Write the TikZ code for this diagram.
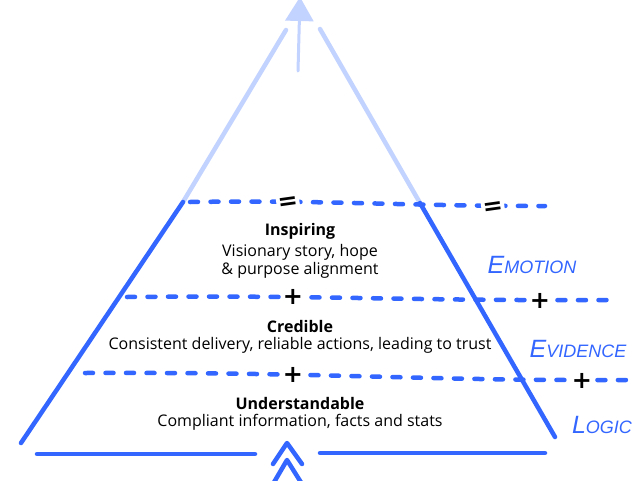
\documentclass[tikz,border=0pt]{standalone}
\usepackage{fontspec}
\setmainfont{Open Sans}
\newfontfamily\handfont{Liberation Sans}
\newfontfamily\signfont{DejaVu Sans}
\usetikzlibrary{arrows.meta,positioning}
\definecolor{pyrblue}{HTML}{3366FF}
\definecolor{pyrlight}{HTML}{C3D3FF}
\tikzset{
  side/.style={line width=4.5pt, line cap=round, draw=pyrblue},
  fadeside/.style={side, draw=pyrlight},
  layerline/.style={line width=4.5pt, line cap=round, draw=pyrblue, dash pattern=on 8pt off 12.5pt},
  sign/.style={fill=white, inner sep=1.5pt, font=\signfont\fontsize{24}{24}\selectfont\bfseries},
  title/.style={font=\fontsize{16}{18}\selectfont\bfseries, inner sep=0pt},
  body/.style={font=\fontsize{16}{18}\selectfont, align=center, inner sep=0pt},
  hand/.style={text=pyrblue, font=\handfont\itshape\fontsize{25}{25}\selectfont}
}
\newcommand{\hsc}[1]{{\fontsize{18}{18}\selectfont #1}}
\begin{document}
\begin{tikzpicture}[x=1pt,y=-1pt]
  \useasboundingbox (0,0) rectangle (640,480);
  \coordinate (topL) at (286,30);
  \coordinate (midL) at (183,202);
  \coordinate (botL) at (21,443);
  \coordinate (topR) at (320,29);
  \coordinate (midR) at (420,203);
  \coordinate (botR) at (555,437);
  \coordinate (shaft) at (298,71);
  \coordinate (tip) at (300,-3);
  \draw[fadeside] (topL) -- (midL);
  \draw[side] (midL) -- (botL);
  \draw[fadeside] (topR) -- (midR);
  \draw[side] (midR) -- (botR);
  \draw[fadeside, line width=3pt, -{Triangle[length=24pt,width=28pt]}] (shaft) -- (tip);
  \coordinate (baseA) at (37,454);
  \coordinate (baseB) at (255,454);
  \coordinate (baseC) at (320,453);
  \coordinate (baseD) at (545,453);
  \draw[side] (baseA) -- (baseB);
  \draw[side] (baseC) -- (baseD);
  \draw[side, line join=round] (273,464) -- (287,443) -- (302,464);
  \draw[side, line join=round] (273,484) -- (287,460) -- (302,484);
  \coordinate (l1a) at (190,202);
  \coordinate (l1b) at (545,206);
  \coordinate (l2a) at (127,297);
  \coordinate (l2b) at (612,300);
  \coordinate (l3a) at (85,373);
  \coordinate (l3b) at (630,380);
  \draw[layerline] (l1a) .. controls (330,200) and (400,206) .. (l1b);
  \draw[layerline] (l2a) .. controls (330,295) and (400,301) .. (l2b);
  \draw[layerline] (l3a) .. controls (330,372) and (420,381) .. (l3b);
  \node[sign, rotate=8] (eq1) at (288,203) {=};
  \node[sign, rotate=8] (eq2) at (493,208) {=};
  \node[sign] (pl1) at (293,297) {+};
  \node[sign] (pl2) at (540,301) {+};
  \node[sign] (pl3) at (293,375) {+};
  \node[sign] (pl4) at (582,381) {+};
  \node[title] (insp) at (300,231) {Inspiring};
  \node[body, below=5pt of insp] (inspTxt) {Visionary story, hope\\ \& purpose alignment};
  \node[title] (cred) at (300,326) {Credible};
  \node[body, below=5pt of cred] (credTxt) {Consistent delivery, reliable actions, leading to trust};
  \node[title] (under) at (300,403) {Understandable};
  \node[body, below=5pt of under] (underTxt) {Compliant information, facts and stats};
  \node[hand] (emo) at (532,265) {E\hsc{MOTION}};
  \node[hand] (evi) at (578,349) {E\hsc{VIDENCE}};
  \node[hand] (logic) at (602,425) {L\hsc{OGIC}};
\end{tikzpicture}
\end{document}
